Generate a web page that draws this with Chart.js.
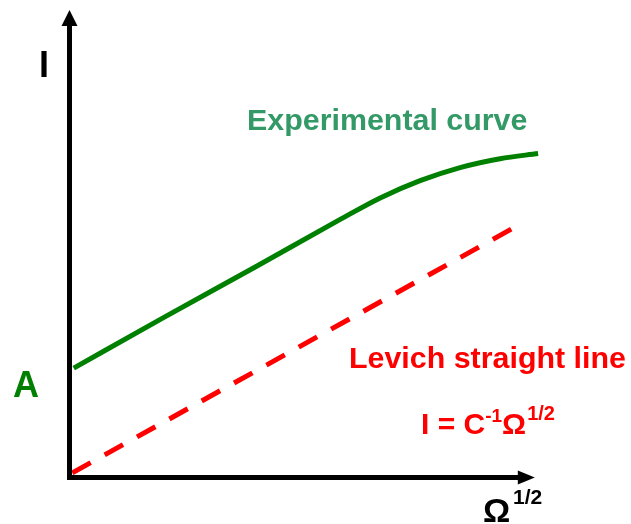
<!DOCTYPE html>
<html>
<head>
<meta charset="utf-8">
<script src="https://cdn.jsdelivr.net/npm/chart.js@4/dist/chart.umd.min.js"></script>
<style>
  html, body { margin: 0; padding: 0; background: #fff; }
  #wrap { width: 631px; height: 524px; }
</style>
</head>
<body>
<div id="wrap"><canvas id="chart"></canvas></div>
<script>
// --- data (arbitrary units) ---
const curveX = [0.09, 2.0, 4.0, 5.76, 6.61, 7.46, 8.31, 9.16, 9.97];
const curveY = [2.34, 3.42, 4.53, 5.52, 5.98, 6.35, 6.63, 6.82, 6.93];
const levichX = [0.06, 9.52];
const levichY = [0.10, 5.38];
const axisEnd = [9.9, 10.0]; // arrow tips: x, y

const toPoints = (xs, ys) => xs.map((x, i) => ({ x: x, y: ys[i] }));

// axes with arrowheads + text labels
const sketchPlugin = {
  id: "sketch",
  afterDatasetsDraw(chart) {
    const ctx = chart.ctx;
    const xs = chart.scales.x, ys = chart.scales.y;
    const x0 = xs.getPixelForValue(0), y0 = ys.getPixelForValue(0);
    const xEnd = xs.getPixelForValue(axisEnd[0]);
    const yEnd = ys.getPixelForValue(axisEnd[1]);

    ctx.save();
    ctx.strokeStyle = "#000";
    ctx.fillStyle = "#000";
    ctx.lineWidth = 5;
    ctx.lineCap = "square";
    ctx.beginPath();
    ctx.moveTo(x0, yEnd + 14);
    ctx.lineTo(x0, y0);
    ctx.lineTo(xEnd - 14, y0);
    ctx.stroke();

    // arrow heads
    ctx.beginPath();
    ctx.moveTo(x0, yEnd);
    ctx.lineTo(x0 - 8, yEnd + 16);
    ctx.lineTo(x0 + 8, yEnd + 16);
    ctx.closePath();
    ctx.fill();
    ctx.beginPath();
    ctx.moveTo(xEnd, y0);
    ctx.lineTo(xEnd - 17, y0 - 7);
    ctx.lineTo(xEnd - 17, y0 + 7);
    ctx.closePath();
    ctx.fill();

    const F = '"Liberation Sans", Arial, sans-serif';
    ctx.textBaseline = "alphabetic";
    ctx.textAlign = "left";

    // axis names
    ctx.font = "bold 36px " + F;
    ctx.fillText("I", 39, 77);
    ctx.font = "bold 34px " + F;
    ctx.fillText("Ω", 483, 522);
    ctx.font = "bold 21px " + F;
    ctx.fillText("1/2", 513, 504);

    ctx.fillStyle = "#008000";
    ctx.font = "bold 36px " + F;
    ctx.fillText("A", 13, 397);

    // curve labels
    ctx.fillStyle = "#339966";
    ctx.font = "bold 30.4px " + F;
    ctx.fillText("Experimental curve", 247, 130);

    ctx.fillStyle = "#ff0000";
    ctx.font = "bold 30.4px " + F;
    ctx.fillText("Levich straight line", 349, 368);

    // I = C^-1 Ω^1/2
    let px = 421;
    const base = 434;
    ctx.font = "bold 30px " + F;
    ctx.fillText("I = C", px, base);
    px += ctx.measureText("I = C").width;
    ctx.font = "bold 19px " + F;
    ctx.fillText("-1", px, base - 12);
    px += ctx.measureText("-1").width;
    ctx.font = "bold 30px " + F;
    ctx.fillText("Ω", px, base);
    px += ctx.measureText("Ω").width + 1;
    ctx.font = "bold 20px " + F;
    ctx.fillText("1/2", px, base - 14);

    ctx.restore();
  },
};

new Chart(document.getElementById("chart"), {
  type: "scatter",
  data: {
    datasets: [
      {
        label: "Experimental curve",
        data: toPoints(curveX, curveY),
        showLine: true,
        borderColor: "#008000",
        borderWidth: 5,
        pointRadius: 0,
        cubicInterpolationMode: "monotone",
        clip: false,
      },
      {
        label: "Levich straight line",
        data: toPoints(levichX, levichY),
        showLine: true,
        borderColor: "#ff0000",
        borderWidth: 5,
        borderDash: [21, 16],
        pointRadius: 0,
        clip: false,
      },
    ],
  },
  options: {
    responsive: true,
    maintainAspectRatio: false,
    animation: false,
    layout: { padding: { left: 69.5, right: 91.5, top: 10, bottom: 46.5 } },
    plugins: { legend: { display: false }, tooltip: { enabled: false } },
    scales: {
      x: { type: "linear", min: 0, max: 10, display: false },
      y: { type: "linear", min: 0, max: 10, display: false },
    },
  },
  plugins: [sketchPlugin],
});
</script>
</body>
</html>
